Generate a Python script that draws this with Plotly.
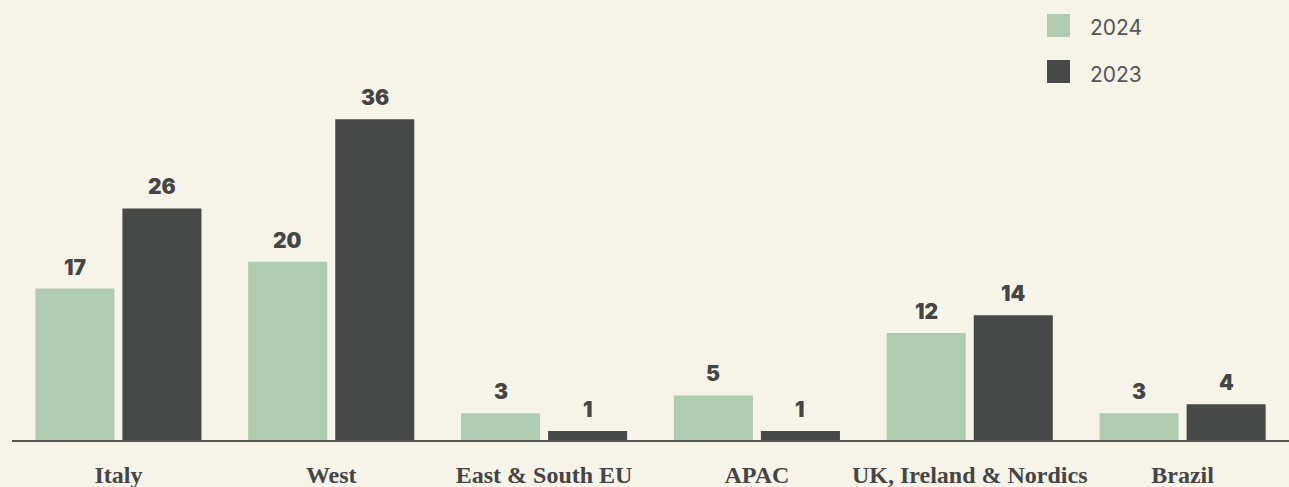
import plotly.graph_objects as go

# Regional counts, current vs previous year
regions = ["Italy", "West", "East & South EU", "APAC", "UK, Ireland & Nordics", "Brazil"]
values_2024 = [17, 20, 3, 5, 12, 3]
values_2023 = [26, 36, 1, 1, 14, 4]
series_names = ["2024", "2023"]

BG = "#F6F4E9"
GREEN = "#AFCCB0"
DARK = "#474948"
TEXT = "#454545"

W, H = 1289, 487
M_L, M_R, M_T, M_B = 12, 0, 0, 47
PLOT_W = W - M_L - M_R
PLOT_H = H - M_T - M_B

fig = go.Figure()
for name, vals, col in [(series_names[0], values_2024, GREEN), (series_names[1], values_2023, DARK)]:
    fig.add_trace(go.Bar(
        x=regions, y=vals, name=name, marker=dict(color=col, line=dict(width=0)),
        showlegend=False, hoverinfo="x+y",
    ))

# value labels above each bar
half_slot = 43.5
for vals, shift in [(values_2024, -half_slot), (values_2023, half_slot)]:
    for r, v in zip(regions, vals):
        fig.add_annotation(
            x=r, y=v, text=str(v), showarrow=False, xshift=shift, yshift=7,
            yanchor="bottom", xanchor="center",
            font=dict(family="Inter", size=21, color=TEXT, weight=900),
        )


def px_x(p):
    return (p - M_L) / PLOT_W


def px_y(p):
    return 1 - (p - M_T) / PLOT_H


# legend: coloured squares with year labels
for i, (name, col) in enumerate(zip(series_names, [GREEN, DARK])):
    top = 14 + i * 46
    fig.add_shape(type="rect", xref="paper", yref="paper",
                  x0=px_x(1047), x1=px_x(1070), y0=px_y(top + 23), y1=px_y(top),
                  fillcolor=col, line=dict(width=0))
    fig.add_annotation(xref="paper", yref="paper", x=px_x(1088), y=px_y(top + 14),
                       text=name, showarrow=False, xanchor="left", yanchor="middle",
                       font=dict(family="Inter", size=21, color="#555555"))

fig.update_layout(
    width=W, height=H,
    margin=dict(l=M_L, r=M_R, t=M_T, b=M_B, autoexpand=False),
    paper_bgcolor=BG, plot_bgcolor=BG,
    barmode="group", bargap=0.182, bargroupgap=0.092,
    xaxis=dict(
        showline=True, linecolor="#555555", linewidth=1.5,
        showgrid=False, zeroline=False, ticks="", automargin=False,
        ticklabelstandoff=12,
        tickfont=dict(family="Liberation Serif", size=24, color=TEXT, weight=700),
    ),
    yaxis=dict(range=[0, 49.4], visible=False, showgrid=False, zeroline=False,
               automargin=False),
)

fig.write_html("out.html")
